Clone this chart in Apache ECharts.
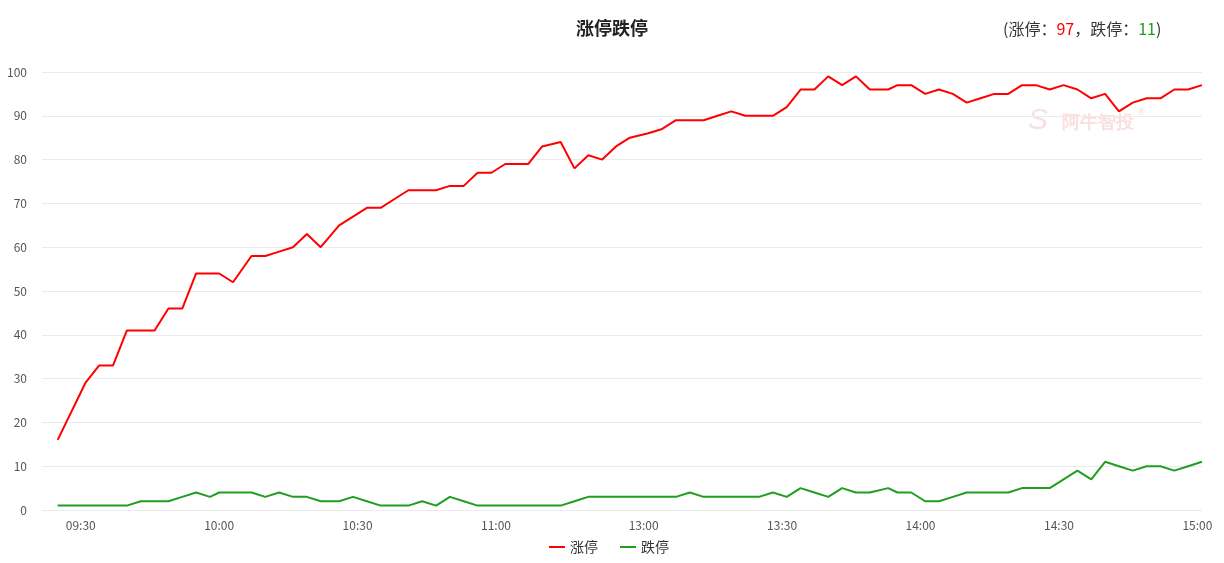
<!DOCTYPE html>
<html>
<head>
<meta charset="utf-8">
<script src="https://cdn.jsdelivr.net/npm/echarts@6/dist/echarts.min.js"></script>
<style>
html,body{margin:0;padding:0;background:#fff;}
#c{width:1224px;height:563px;}
</style>
</head>
<body>
<div id="c"></div>
<script>
// x positions in trading minutes (09:30 = 0, lunch break collapsed)
var xMinutes = [-5, 1, 4, 7, 10, 13, 16, 19, 22, 25, 28, 30, 33, 37, 40, 43, 46, 49, 52, 56, 59, 62, 65, 68, 71, 74, 77, 80, 83, 86, 89, 92, 94, 97, 100, 104, 107, 110, 113, 116, 119,
  123, 126, 129, 132, 135, 138, 141, 144, 147, 150, 153, 156, 159, 162, 165, 168, 171, 175, 177, 180, 183, 186, 189, 192, 195, 198, 201, 204, 207, 210, 213, 216, 219, 222, 225, 228, 231, 234, 237, 240, 243];
var limitUp = [16, 29, 33, 33, 41, 41, 41, 46, 46, 54, 54, 54, 52, 58, 58, 59, 60, 63, 60, 65, 67, 69, 69, 71, 73, 73, 73, 74, 74, 77, 77, 79, 79, 79, 83, 84, 78, 81, 80, 83, 85,
  86, 87, 89, 89, 89, 90, 91, 90, 90, 90, 92, 96, 96, 99, 97, 99, 96, 96, 97, 97, 95, 96, 95, 93, 94, 95, 95, 97, 97, 96, 97, 96, 94, 95, 91, 93, 94, 94, 96, 96, 97];
var limitDown = [1, 1, 1, 1, 1, 2, 2, 2, 3, 4, 3, 4, 4, 4, 3, 4, 3, 3, 2, 2, 3, 2, 1, 1, 1, 2, 1, 3, 2, 1, 1, 1, 1, 1, 1, 1, 2, 3, 3, 3, 3,
  3, 3, 3, 4, 3, 3, 3, 3, 3, 4, 3, 5, 4, 3, 5, 4, 4, 5, 4, 4, 2, 2, 3, 4, 4, 4, 4, 5, 5, 5, 7, 9, 7, 11, 10, 9, 10, 10, 9, 10, 11];
var tickValues = [0, 30, 60, 90, 122, 152, 182, 212, 242];
var tickLabels = ['09:30', '10:00', '10:30', '11:00', '13:00', '13:30', '14:00', '14:30', '15:00'];
var seriesNames = ['涨停', '跌停'];
var colors = ['#ff0000', '#1f9e1f'];

function pairs(ys) { return xMinutes.map(function (x, i) { return [x, ys[i]]; }); }
var lastUp = limitUp[limitUp.length - 1];
var lastDown = limitDown[limitDown.length - 1];

var chart = echarts.init(document.getElementById('c'), null, { renderer: 'canvas' });
chart.setOption({
  animation: false,
  color: colors,
  textStyle: { fontFamily: '"Noto Sans CJK SC", "Noto Sans", sans-serif' },
  title: [{
    text: '涨停跌停',
    left: 'center',
    top: 14,
    textStyle: { fontSize: 18, fontWeight: 'bold', color: '#222' }
  }, {
    text: '{a|(涨停：}{r|' + lastUp + '}{a|，跌停：}{g|' + lastDown + '}{a|)}',
    left: 998,
    top: 16,
    textStyle: {
      fontWeight: 'normal',
      rich: {
        a: { fontSize: 16, color: '#333', fontWeight: 'normal' },
        r: { fontSize: 16, color: '#ff0000', fontWeight: 'normal' },
        g: { fontSize: 16, color: '#1f9e1f', fontWeight: 'normal' }
      }
    }
  }],
  graphic: [{
    type: 'text',
    left: 1062,
    top: 114,
    style: { text: '阿牛智投', fontSize: 18, fontWeight: 'bold', fill: 'rgba(235,150,150,0.3)' }
  }, {
    type: 'text',
    left: 1138,
    top: 108,
    style: { text: '®', fontSize: 9, fill: 'rgba(235,150,150,0.4)' }
  }, {
    type: 'text',
    left: 1028,
    top: 106,
    style: { text: 'S', fontSize: 30, fontStyle: 'italic', fill: 'rgba(235,150,150,0.3)' }
  }],
  legend: {
    bottom: 4,
    left: 544,
    icon: 'rect',
    itemWidth: 16,
    itemHeight: 2,
    itemGap: 22,
    textStyle: { fontSize: 14, color: '#333' },
    data: seriesNames
  },
  grid: { left: 42, right: 22, top: 72, bottom: 53, containLabel: false },
  xAxis: {
    type: 'value',
    min: -8.4,
    max: 243,
    splitLine: { show: false },
    axisLine: { show: false },
    axisTick: { show: false },
    axisLabel: {
      customValues: tickValues,
      formatter: function (v) { var i = tickValues.indexOf(v); return i >= 0 ? tickLabels[i] : ''; },
      color: '#555',
      fontSize: 12,
      margin: 9
    }
  },
  yAxis: {
    type: 'value',
    min: 0,
    max: 100,
    interval: 10,
    axisLine: { show: false },
    axisTick: { show: false },
    axisLabel: { color: '#555', fontSize: 12, margin: 15 },
    splitLine: { lineStyle: { color: '#ebebeb', width: 1 } }
  },
  series: [{
    name: seriesNames[0],
    type: 'line',
    data: pairs(limitUp),
    showSymbol: false,
    lineStyle: { width: 2, color: colors[0] }
  }, {
    name: seriesNames[1],
    type: 'line',
    data: pairs(limitDown),
    showSymbol: false,
    lineStyle: { width: 2, color: colors[1] }
  }]
});
</script>
</body>
</html>
